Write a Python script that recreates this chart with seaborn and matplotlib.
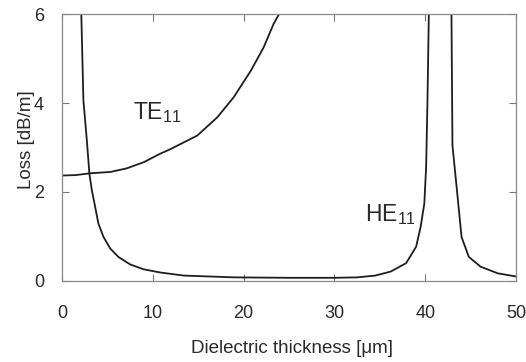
import numpy as np
import pandas as pd
import matplotlib
matplotlib.use('Agg')
import matplotlib.pyplot as plt
import seaborn as sns

# values
te_x = [0, 1.5, 3.1, 5.3, 7.1, 9.0, 10.8, 11.9, 14.9, 17.1, 18.9, 20.8, 22.2, 23.3, 23.9, 24.8]
te_y = [2.37, 2.38, 2.42, 2.45, 2.53, 2.67, 2.86, 2.96, 3.27, 3.68, 4.13, 4.73, 5.25, 5.78, 6.00, 6.50]

he_x = [2.0, 2.35, 2.73, 3.01, 3.28, 3.64, 4.0, 4.56, 5.3, 6.2, 7.5, 9.0, 10.8,
        13.4, 18.9, 25.0, 30.0, 32.5, 34.5, 36.2, 37.9, 39.0, 39.5, 39.9,
        40.1, 40.25, 40.55, 41.0, 42.0, 43.0, 43.6, 44.0, 44.8, 46.1, 48.0, 50.0]
he_y = [7.0, 4.06, 3.16, 2.41, 2.04, 1.67, 1.29, 0.99, 0.73, 0.54, 0.37, 0.26, 0.19,
        0.12, 0.08, 0.07, 0.07, 0.08, 0.12, 0.21, 0.40, 0.77, 1.22, 1.74,
        2.56, 4.06, 8.0, 20.0, 30.0, 3.05, 1.82, 0.99, 0.54, 0.32, 0.17, 0.10]

x_ticks = [0, 10, 20, 30, 40, 50]
y_ticks = [0, 2, 4, 6]

sns.set_style('ticks')
plt.rcParams['font.family'] = ['Liberation Sans', 'DejaVu Sans']
plt.rcParams['mathtext.fontset'] = 'custom'
plt.rcParams['mathtext.rm'] = 'Liberation Sans'
plt.rcParams['mathtext.default'] = 'rm'

te = pd.DataFrame({'x': te_x, 'y': te_y})
he = pd.DataFrame({'x': he_x, 'y': he_y})

fig = plt.figure(figsize=(5.26, 3.62), dpi=100)
ax = fig.add_axes([0.118, 0.224, 0.863, 0.737])

line_col = '#1e1e1e'
sns.lineplot(data=te, x='x', y='y', ax=ax, color=line_col, lw=1.3, estimator=None)
sns.lineplot(data=he, x='x', y='y', ax=ax, color=line_col, lw=1.3, estimator=None)

ax.set_xlim(0, 50)
ax.set_ylim(0, 6)
ax.set_xticks(x_ticks)
ax.set_yticks(y_ticks)

txt_col = '#2a2a2a'
ax.tick_params(direction='in', length=5, width=0.8, color='#777777',
               labelsize=13, labelcolor=txt_col, top=True, right=True)
ax.tick_params(axis='x', pad=17)
ax.tick_params(axis='y', pad=13)
for s in ax.spines.values():
    s.set_color('#888888')
    s.set_linewidth(0.9)

ax.set_xlabel('Dielectric thickness [\u03bcm]', fontsize=13.5, color=txt_col)
ax.set_ylabel('Loss [dB/m]', fontsize=13.5, color=txt_col)
ax.xaxis.set_label_coords(0.507, -0.22)
ax.yaxis.set_label_coords(-0.06, 0.53)

ax.text(7.85, 3.65, r'TE$_{11}$', fontsize=16.5, color=txt_col, ha='left', va='baseline')
ax.text(33.4, 1.35, r'HE$_{11}$', fontsize=16.5, color=txt_col, ha='left', va='baseline')

fig.savefig('out.png', dpi=100, facecolor='white')
